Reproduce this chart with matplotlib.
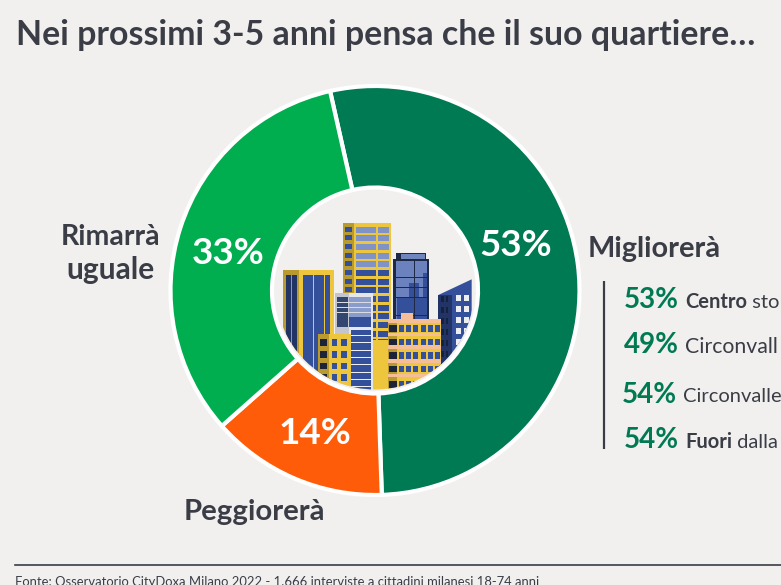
import matplotlib
matplotlib.use("Agg")
import matplotlib.pyplot as plt
from matplotlib.patches import Rectangle, Circle, Polygon

categories = ["Migliorerà", "Peggiorerà", "Rimarrà", "uguale"]
values = [53, 14, 33]
slice_colors = ["#007A53", "#FF5C0A", "#00AE4F"]
area_values = [53, 49, 54, 54]
area_bold = ["Centro", "", "", "Fuori"]
area_rest = [" sto", "Circonvall", "Circonvalle", " dalla"]

BG = "#F2F0EF"
DARK = "#3A3D46"
GREEN = "#007A53"
FONT = ["Lato", "Open Sans", "DejaVu Sans"]
W, H = 781, 585
plt.rcParams["font.family"] = FONT

fig = plt.figure(figsize=(W / 100, H / 100), dpi=100, facecolor=BG)
ax = fig.add_axes([0, 0, 1, 1], facecolor=BG)
CX, CY = 375, H - 290.5
ax.pie(values, colors=slice_colors, startangle=102.7, counterclock=False,
       center=(CX, CY), radius=204.5, frame=False,
       wedgeprops=dict(width=101.5, edgecolor="white", linewidth=3))
ax.set_xlim(0, W); ax.set_ylim(0, H); ax.set_aspect("auto"); ax.axis("off")

def Y(p): return H - p

# donut labels
for val, (px, py) in zip(values, [(516, 246), (315, 434), (228, 253)]):
    ax.text(px, Y(py), f"{val}%", color="white", fontsize=26.5, fontweight="bold", ha="center", va="center")

ax.text(16, Y(35), "Nei prossimi 3-5 anni pensa che il suo quartiere…", color=DARK,
        fontsize=24.4, fontweight="bold", ha="left", va="center")
ax.text(654.5, Y(249), categories[0], color=DARK, fontsize=20.8, fontweight="bold", ha="center", va="center")
ax.text(254.5, Y(512), categories[1], color=DARK, fontsize=21.2, fontweight="bold", ha="center", va="center")
ax.text(110.5, Y(237), categories[2], color=DARK, fontsize=20.5, fontweight="bold", ha="center", va="center")
ax.text(110.5, Y(270), categories[3], color=DARK, fontsize=21.5, fontweight="bold", ha="center", va="center")

# side list
ax.plot([604, 604], [Y(281), Y(449)], color=DARK, lw=1.6, solid_capstyle="butt")
rows = [(624, 300), (624, 345), (622, 395), (624, 440)]
sizes = [14.5, 15.3, 14.5, 14.5]
fig.canvas.draw()
rend = fig.canvas.get_renderer()
for v, b, r, (px, py), fs in zip(area_values, area_bold, area_rest, rows, sizes):
    t = ax.text(px, Y(py), f"{v}%", color=GREEN, fontsize=20, fontweight="bold", ha="left", va="center")
    x = t.get_window_extent(rend).x1 + 6
    if b:
        t2 = ax.text(x, Y(py + 2), b, color=DARK, fontsize=fs, fontweight="bold", ha="left", va="center")
        x = t2.get_window_extent(rend).x1
    ax.text(x, Y(py + 2), r, color=DARK, fontsize=fs, ha="left", va="center")

# footer
ax.plot([15, W], [Y(564.5), Y(564.5)], color=DARK, lw=1.2)
ax.text(15, Y(586), "Fonte: Osservatorio CityDoxa Milano 2022 - 1.666 interviste a cittadini milanesi 18-74 anni",
        color=DARK, fontsize=9.33, ha="left", va="baseline", clip_on=False)

# city illustration, clipped to the donut hole (coordinates from a 3x crop at 270,200)
clip = Circle((CX, CY), 99, transform=ax.transData, fc="none", ec="none")
ax.add_patch(clip)
def zr(x0, y0, x1, y1, c, z=3):
    p = Rectangle((270 + x0 / 3, H - (200 + y1 / 3)), (x1 - x0) / 3, (y1 - y0) / 3, fc=c, ec="none", zorder=z)
    ax.add_patch(p); p.set_clip_path(clip)
YEL, OCH, BLU, NAVY = "#EDC63D", "#B99A2E", "#34509A", "#223366"
PAL, GREY, PEACH = "#7F93C6", "#D5D7DC", "#F6BE97"

# blue right tower
p = Polygon([(270 + 505/3, H - (200 + 285/3)), (270 + 605/3, H - (200 + 238/3)),
             (270 + 605/3, H - (200 + 520/3)), (270 + 505/3, H - (200 + 520/3))], fc=BLU, ec="none", zorder=3)
ax.add_patch(p); p.set_clip_path(clip)
zr(505, 285, 545, 520, NAVY, 3.1)
for ry in range(285, 470, 33):
    for rx in (558, 582):
        zr(rx, ry, rx + 15, ry + 18, "#EDEEF2", 3.2)
    for rx in (514, 528):
        zr(rx, ry + 4, rx + 7, ry + 22, "#14213F", 3.2)

# tall yellow tower
zr(218, 68, 252, 420, OCH, 4); zr(252, 68, 362, 420, YEL, 4)
for i, ry in enumerate(range(80, 420, 26)):
    zr(225, ry, 246, ry + 15, BLU, 4.1)
    zr(258, ry, 317, ry + 18, PAL if i < 5 else BLU, 4.1)
    zr(324, ry, 356, ry + 18, PAL if i < 5 else BLU, 4.1)

# dark glass tower
zr(378, 159, 468, 180, "#1E2A45", 4); zr(392, 162, 464, 177, "#6F85BE", 4.1)
zr(368, 177, 477, 360, "#1E2A45", 4); zr(378, 182, 472, 360, "#6B82BE", 4.1)
zr(380, 290, 472, 360, BLU, 4.2); zr(416, 248, 446, 300, BLU, 4.3); zr(458, 220, 472, 300, BLU, 4.3)
for ry in (232, 262, 292, 320, 345):
    zr(378, ry, 472, ry + 2, "#1E2A45", 4.4)
for rx in (404, 432, 458):
    zr(rx, 182, rx + 2, 360, "#1E2A45", 4.4)

# left blue tower
zr(40, 210, 90, 560, OCH, 5); zr(88, 210, 192, 560, YEL, 5)
zr(48, 225, 62, 560, NAVY, 5.1); zr(66, 225, 82, 560, NAVY, 5.1)
zr(99, 225, 130, 560, BLU, 5.1); zr(133, 225, 162, 560, BLU, 5.1); zr(165, 225, 181, 560, BLU, 5.1)

# grey-white tower
zr(195, 278, 238, 580, "#C3C6CE", 6); zr(236, 280, 310, 580, "#E4E6EA", 6)
zr(200, 290, 234, 380, "#33466F", 6.1); zr(238, 292, 304, 380, "#8A9CCB", 6.1)
zr(238, 350, 304, 380, BLU, 6.15)
zr(242, 390, 304, 575, BLU, 6.1)
for ry in range(405, 575, 22):
    zr(242, ry, 304, ry + 3, "#EDEEF2", 6.2)
for ry in (305, 320, 335):
    zr(200, ry, 304, ry + 3, "#DADCE2", 6.2)

# small yellow block
zr(144, 402, 178, 580, OCH, 7); zr(176, 402, 244, 580, YEL, 7)
for ry in range(418, 570, 35):
    zr(150, ry, 171, ry + 20, "#1D2438", 7.1)
    zr(186, ry, 201, ry + 20, BLU, 7.1); zr(213, ry, 232, ry + 20, BLU, 7.1)

# yellow gap block + peach building
zr(308, 420, 355, 580, YEL, 6.5)
zr(393, 339, 429, 360, PEACH, 7)
zr(354, 357, 514, 580, YEL, 7); zr(354, 357, 380, 580, OCH, 7.05)
zr(354, 357, 514, 368, PEACH, 7.1)
for ry in (398, 436, 478, 522):
    zr(354, ry, 514, ry + 10, PEACH, 7.15)
for ry in (376, 416, 456, 497, 543):
    zr(358, ry, 380, ry + 20, "#1D2438", 7.2)
    for rx in (388, 408, 430, 453, 475, 496):
        zr(rx, ry, rx + 14, ry + 20, BLU, 7.2)

fig.savefig("out.png", dpi=100, facecolor=BG)
